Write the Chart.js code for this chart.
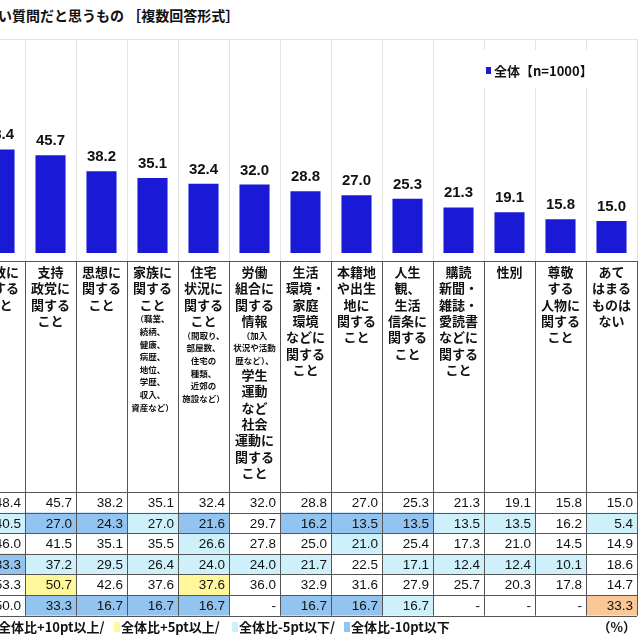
<!DOCTYPE html>
<html lang="ja">
<head>
<meta charset="utf-8">
<script src="https://cdn.jsdelivr.net/npm/chart.js@4.4.1/dist/chart.umd.min.js"></script>
<style>
  html, body { margin:0; padding:0; background:#fff; overflow:hidden; }
  #wrap { position:relative; width:640px; height:640px; overflow:hidden; }
  #title { position:absolute; left:-2px; top:5px; line-height:20px; font-weight:bold; font-size:14px;
           font-family:"Noto Sans CJK JP", sans-serif; white-space:nowrap; color:#111; }
  #chart { position:absolute; left:-26px; top:0; }
</style>
</head>
<body>
<div id="wrap">
  <div id="title">い質問だと思うもの ［複数回答形式］</div>
  <canvas id="chart" width="666" height="640"></canvas>
</div>
<script>
// --- category labels (nested array = small note lines) ---
const categoryLines = [
  ["宗教に", "関する", "こと"],
  ["支持", "政党に", "関する", "こと"],
  ["思想に", "関する", "こと"],
  ["家族に", "関する", "こと", ["（職業、", "続柄、", "健康、", "病歴、", "地位、", "学歴、", "収入、", "資産など）"]],
  ["住宅", "状況に", "関する", "こと", ["（間取り、", "部屋数、", "住宅の", "種類、", "近郊の", "施設など）"]],
  ["労働", "組合に", "関する", "情報", ["（加入", "状況や活動", "歴など）、"], "学生", "運動", "など", "社会", "運動に", "関する", "こと"],
  ["生活", "環境・", "家庭", "環境", "などに", "関する", "こと"],
  ["本籍地", "や出生", "地に", "関する", "こと"],
  ["人生", "観、", "生活", "信条に", "関する", "こと"],
  ["購読", "新聞・", "雑誌・", "愛読書", "などに", "関する", "こと"],
  ["性別"],
  ["尊敬", "する", "人物に", "関する", "こと"],
  ["あて", "はまる", "ものは", "ない"]
];
const categories = categoryLines.map(l => l.flat().join(''));

// --- values (%) ---
const totalValues  = [48.4, 45.7, 38.2, 35.1, 32.4, 32.0, 28.8, 27.0, 25.3, 21.3, 19.1, 15.8, 15.0];
const group1Values = [40.5, 27.0, 24.3, 27.0, 21.6, 29.7, 16.2, 13.5, 13.5, 13.5, 13.5, 16.2, 5.4];
const group2Values = [46.0, 41.5, 35.1, 35.5, 26.6, 27.8, 25.0, 21.0, 25.4, 17.3, 21.0, 14.5, 14.9];
const group3Values = [33.3, 37.2, 29.5, 26.4, 24.0, 24.0, 21.7, 22.5, 17.1, 12.4, 12.4, 10.1, 18.6];
const group4Values = [53.3, 50.7, 42.6, 37.6, 37.6, 36.0, 32.9, 31.6, 27.9, 25.7, 20.3, 17.8, 14.7];
const group5Values = [50.0, 33.3, 16.7, 16.7, 16.7, null, 16.7, 16.7, 16.7, null, null, null, 33.3];
const tableRows = [totalValues, group1Values, group2Values, group3Values, group4Values, group5Values];

const seriesLabel = "全体【n=1000】";
const highlightLabels = ["全体比+10pt以上/", "全体比+5pt以上/", "全体比-5pt以下/", "全体比-10pt以下"];
const unitLabel = "（%）";

// --- colours ---
const barColor = '#1a1ad6';
const hlColors = ['#f9c896', '#fff79a', '#cdf0fa', '#93c4f0'];
const jp = '"Noto Sans CJK JP", sans-serif';
const num = '"Liberation Sans", Arial, sans-serif';

function cellColor(v, base) {
  if (v === null) return '#ffffff';
  const d = Math.round((v - base) * 10) / 10;
  if (d >= 10) return hlColors[0];
  if (d >= 5) return hlColors[1];
  if (d <= -10) return hlColors[3];
  if (d <= -5) return hlColors[2];
  return '#ffffff';
}

const overlay = {
  id: 'overlay',
  afterDatasetsDraw(chart) {
    const ctx = chart.ctx;
    const meta = chart.getDatasetMeta(0);
    ctx.save();
    ctx.fillStyle = '#111';
    ctx.font = 'bold 15px ' + num;
    ctx.textAlign = 'center';
    ctx.textBaseline = 'alphabetic';
    meta.data.forEach((bar, i) => {
      ctx.fillText(totalValues[i].toFixed(1), bar.x, bar.y - 10);
    });
    ctx.restore();
  },
  afterDraw(chart) {
    const ctx = chart.ctx;
    const area = chart.chartArea;
    const xs = chart.scales.x;
    const n = categories.length;
    const colW = (area.right - area.left) / n;
    const headerTop = 261, tableTop = 492, rowH = 20.6;
    const tableBottom = tableTop + rowH * tableRows.length;
    ctx.save();

    // plot frame + gridline continuation
    ctx.strokeStyle = '#e2e2e2';
    ctx.lineWidth = 1;
    ctx.beginPath();
    ctx.moveTo(area.left, area.top + 0.5); ctx.lineTo(area.right, area.top + 0.5);
    for (let i = 0; i <= n; i++) {
      const x = Math.round(area.left + i * colW) + 0.5;
      ctx.moveTo(x, area.bottom); ctx.lineTo(x, headerTop);
    }
    ctx.stroke();

    // legend
    ctx.fillStyle = '#fff';
    ctx.fillRect(xs.left + 506, 50, 120, 38);
    ctx.fillStyle = barColor;
    ctx.fillRect(xs.left + 512, 67, 5, 7);
    ctx.fillStyle = '#111';
    ctx.font = 'bold 13px ' + jp;
    ctx.textAlign = 'left';
    ctx.textBaseline = 'middle';
    ctx.fillText(seriesLabel, xs.left + 520, 71);

    // table cells
    tableRows.forEach((row, r) => {
      row.forEach((v, i) => {
        const x0 = xs.getPixelForValue(i) - colW / 2;
        ctx.fillStyle = cellColor(v, totalValues[i]);
        ctx.fillRect(x0, tableTop + r * rowH, colW, rowH);
      });
    });

    // header labels
    ctx.fillStyle = '#111';
    ctx.textAlign = 'center';
    ctx.textBaseline = 'middle';
    categoryLines.forEach((lines, i) => {
      const cx = xs.getPixelForValue(i);
      let y = 264;
      lines.forEach(item => {
        if (Array.isArray(item)) {
          ctx.font = 'bold 8.5px ' + jp;
          item.forEach(s => { ctx.fillText(s, cx, y + 6.3); y += 12.6; });
        } else {
          ctx.font = 'bold 13px ' + jp;
          ctx.fillText(item, cx, y + 8.15); y += 16.3;
        }
      });
    });

    // table values
    ctx.font = '13.5px ' + num;
    ctx.textAlign = 'right';
    tableRows.forEach((row, r) => {
      row.forEach((v, i) => {
        const xr = xs.getPixelForValue(i) + colW / 2 - 4;
        ctx.fillText(v === null ? '-' : v.toFixed(1), xr, tableTop + r * rowH + rowH / 2 + 1);
      });
    });

    // grid lines of header + table
    ctx.strokeStyle = '#555';
    ctx.beginPath();
    for (let i = 0; i <= n; i++) {
      const x = Math.round(area.left + i * colW) + 0.5;
      ctx.moveTo(x, headerTop); ctx.lineTo(x, tableBottom);
    }
    [headerTop, tableTop].forEach(y => { ctx.moveTo(area.left, Math.round(y) + 0.5); ctx.lineTo(area.right, Math.round(y) + 0.5); });
    for (let r = 1; r <= tableRows.length; r++) {
      const y = Math.round(tableTop + r * rowH) + 0.5;
      ctx.moveTo(area.left, y); ctx.lineTo(area.right, y);
    }
    ctx.stroke();

    // highlight legend
    const sqX = [-9, 114, 232, 344];
    ctx.font = 'bold 13px ' + jp;
    ctx.textAlign = 'left';
    highlightLabels.forEach((t, k) => {
      ctx.fillStyle = hlColors[k];
      ctx.fillRect(xs.left + 26 + sqX[k], 622, 6, 10);
      ctx.fillStyle = '#111';
      ctx.fillText(t, xs.left + 26 + sqX[k] + 7, 627);
    });
    ctx.textAlign = 'right';
    ctx.fillText(unitLabel, xs.left + 26 + 636, 627);
    ctx.restore();
  }
};

new Chart(document.getElementById('chart').getContext('2d'), {
  type: 'bar',
  data: {
    labels: categories,
    datasets: [{
      label: seriesLabel,
      data: totalValues,
      backgroundColor: barColor,
      barPercentage: 0.59,
      categoryPercentage: 1
    }]
  },
  options: {
    responsive: false,
    animation: false,
    layout: { padding: { left: 0, right: 3, top: 39, bottom: 387 } },
    plugins: { legend: { display: false }, tooltip: { enabled: false } },
    scales: {
      x: {
        grid: { color: '#e2e2e2', drawTicks: false, offset: true },
        border: { display: false },
        ticks: { display: false }
      },
      y: { display: false, min: 0, max: 100 }
    }
  },
  plugins: [overlay]
});
</script>
</body>
</html>
